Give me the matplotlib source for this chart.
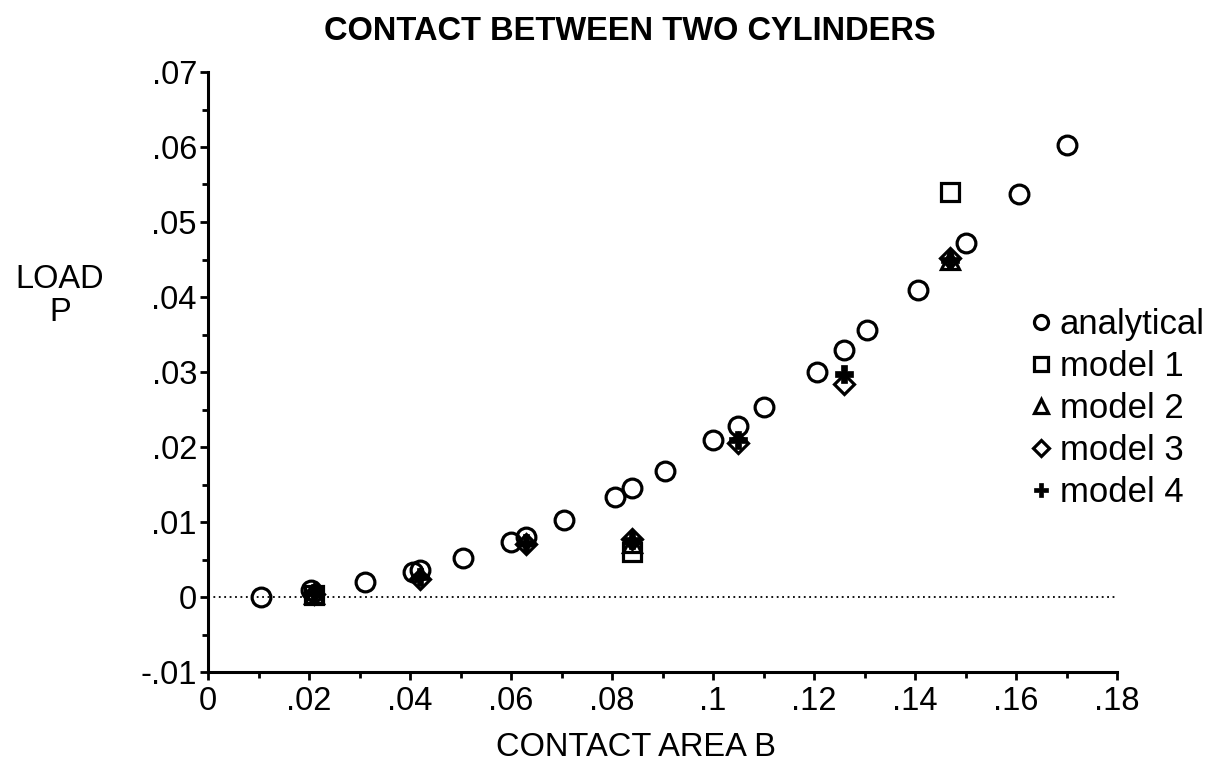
import matplotlib
matplotlib.use("Agg")
import matplotlib.pyplot as plt
from matplotlib.ticker import MultipleLocator, FuncFormatter

plt.rcParams['font.family'] = ['Liberation Sans', 'DejaVu Sans']

analytical_x = [0.0105, 0.0203, 0.031, 0.0405, 0.042, 0.0505, 0.060, 0.063, 0.0705,
                0.0805, 0.084, 0.0905, 0.100, 0.105, 0.110, 0.1205, 0.126, 0.1305,
                0.1405, 0.150, 0.1605, 0.170]
analytical_y = [0.0, 0.0009, 0.002, 0.0033, 0.0036, 0.0052, 0.0074, 0.0080, 0.0103,
                0.0133, 0.0146, 0.0168, 0.0209, 0.0228, 0.0253, 0.0300, 0.0330, 0.0356,
                0.0410, 0.0472, 0.0538, 0.0603]

model1_x = [0.021, 0.084, 0.147]
model1_y = [0.0003, 0.0060, 0.0540]
model2_x = [0.021, 0.084, 0.147]
model2_y = [0.0004, 0.0072, 0.0450]
model3_x = [0.021, 0.042, 0.063, 0.084, 0.105, 0.126, 0.147]
model3_y = [0.0004, 0.0024, 0.0071, 0.0078, 0.0206, 0.0284, 0.0452]
model4_x = [0.021, 0.042, 0.063, 0.084, 0.105, 0.126, 0.147]
model4_y = [0.0005, 0.0027, 0.0072, 0.0076, 0.0210, 0.0297, 0.0450]

x_ticks = [0, 0.02, 0.04, 0.06, 0.08, 0.1, 0.12, 0.14, 0.16, 0.18]
y_ticks = [-0.01, 0, 0.01, 0.02, 0.03, 0.04, 0.05, 0.06, 0.07]

fig = plt.figure(figsize=(12.13, 7.74), dpi=100)
ax = fig.add_axes([208/1213, 1-672/774, (1117-208)/1213, (672-72)/774])

ax.plot([0, 0.18], [0, 0], linestyle=(0, (1, 2)), color='black', lw=1.3, zorder=1)

lw = 2.3
ax.plot(analytical_x, analytical_y, 'o', ms=13.5, mfc='none', mec='black', mew=lw,
        label='analytical', zorder=3)
ax.plot(model1_x, model1_y, 's', ms=13.5, mfc='none', mec='black', mew=lw,
        label='model 1', zorder=4)
ax.plot(model2_x, model2_y, '^', ms=13.5, mfc='none', mec='black', mew=lw,
        label='model 2', zorder=5)
ax.plot(model3_x, model3_y, 'D', ms=10.5, mfc='none', mec='black', mew=lw,
        label='model 3', zorder=6)
ax.plot(model4_x, model4_y, 'P', ms=12.5, mfc='black', mec='black', mew=0.5,
        label='model 4', zorder=7)

ax.set_xlim(0, 0.18)
ax.set_ylim(-0.01, 0.07)
ax.set_xticks(x_ticks)
ax.set_yticks(y_ticks)

def fmt(v, pos):
    if abs(v) < 1e-12:
        return '0'
    s = ('%.2f' % v).rstrip('0')
    s = s.replace('0.', '.')
    return s

ax.xaxis.set_major_formatter(FuncFormatter(fmt))
ax.yaxis.set_major_formatter(FuncFormatter(fmt))
ax.xaxis.set_minor_locator(MultipleLocator(0.01))
ax.yaxis.set_minor_locator(MultipleLocator(0.005))

for s in ['top', 'right']:
    ax.spines[s].set_visible(False)
for s in ['left', 'bottom']:
    ax.spines[s].set_linewidth(2.2)

ax.tick_params(which='major', direction='out', length=6, width=2, labelsize=23.5, pad=2)
ax.tick_params(axis='x', which='major', pad=4)
ax.tick_params(which='minor', direction='out', length=4, width=2)

fig.text(630/1213, 1-31/774, 'CONTACT BETWEEN TWO CYLINDERS', ha='center', va='center',
         fontsize=23.5, fontweight='bold')
fig.text(60/1213, 1-296/774, 'LOAD\nP', ha='center', va='center', fontsize=23.5,
         linespacing=1.1)
fig.text(636/1213, 1-748/774, 'CONTACT AREA B', ha='center', va='center', fontsize=23.5)

leg = ax.legend(loc='upper left', bbox_to_anchor=(1032/1213, 1-308/774),
                bbox_transform=fig.transFigure, frameon=False, fontsize=25,
                handlelength=0.5, handletextpad=0.3, labelspacing=0.26,
                markerscale=0.75, borderaxespad=0, borderpad=0)

fig.savefig('out.png', dpi=100)
